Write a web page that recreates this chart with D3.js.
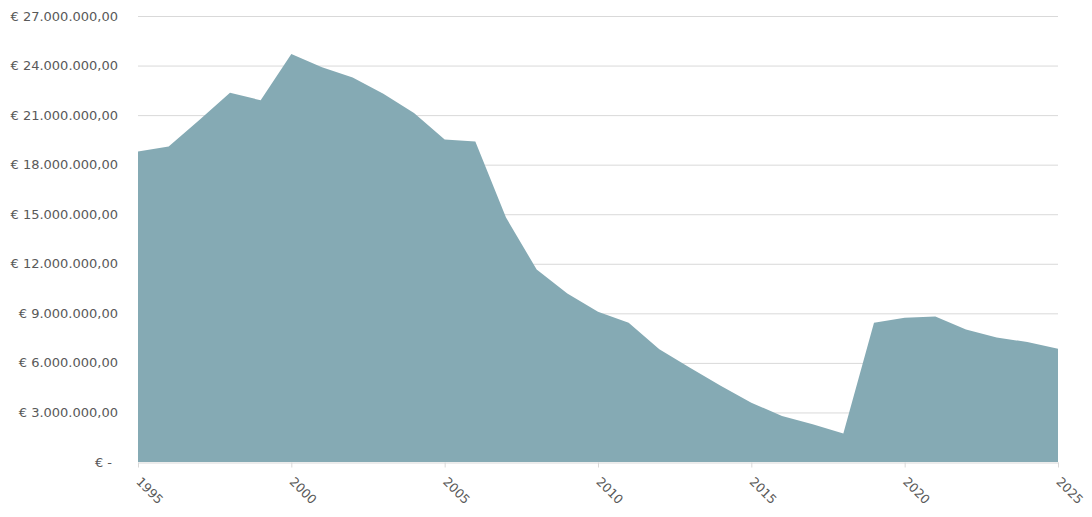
<!DOCTYPE html>
<html>
<head>
<meta charset="utf-8">
<script src="https://cdn.jsdelivr.net/npm/d3@7"></script>
<style>
  body { margin: 0; background: #fff; }
  svg text { font-family: "DejaVu Sans", sans-serif; fill: #595959; }
</style>
</head>
<body>
<div id="chart"></div>
<script>
// Data
const years = [1995, 1996, 1997, 1998, 1999, 2000, 2001, 2002, 2003, 2004,
  2005, 2006, 2007, 2008, 2009, 2010, 2011, 2012, 2013, 2014,
  2015, 2016, 2017, 2018, 2019, 2020, 2021, 2022, 2023, 2024, 2025];
const values = [18.8, 19.1, 20.7, 22.35, 21.9, 24.7, 23.9, 23.27, 22.3, 21.13,
  19.52, 19.4, 14.8, 11.65, 10.2, 9.09, 8.43, 6.82, 5.7, 4.62,
  3.59, 2.78, 2.28, 1.73, 8.43, 8.73, 8.81, 8.02, 7.54, 7.26, 6.85]
  .map(v => v * 1e6);
const yTicks = [0, 3e6, 6e6, 9e6, 12e6, 15e6, 18e6, 21e6, 24e6, 27e6];
const xTicks = [1995, 2000, 2005, 2010, 2015, 2020, 2025];

const width = 1092;
const height = 517;
const margin = { top: 16, right: 34, bottom: 55, left: 138 };

const svg = d3.select('#chart').append('svg')
  .attr('width', width)
  .attr('height', height);

const x = d3.scaleLinear()
  .domain([1995, 2025])
  .range([margin.left, width - margin.right]);

const y = d3.scaleLinear()
  .domain([0, 27e6])
  .range([height - margin.bottom, margin.top]);

const data = years.map((yr, i) => ({ x: yr, y: values[i] }));

// Euro format like the spreadsheet: "€ 27.000.000,00"
const fmt = v => '€ ' + d3.format(',.2f')(v).replace(/,/g, '#').replace('.', ',').replace(/#/g, '.');

// Gridlines
svg.append('g')
  .selectAll('line')
  .data(yTicks.filter(d => d > 0))
  .join('line')
  .attr('x1', margin.left)
  .attr('x2', width - margin.right)
  .attr('y1', d => y(d) + 0.5)
  .attr('y2', d => y(d) + 0.5)
  .attr('stroke', '#d9d9d9')
  .attr('stroke-width', 1);

// Area
const area = d3.area()
  .x(d => x(d.x))
  .y0(y(0))
  .y1(d => y(d.y));

svg.append('path')
  .datum(data)
  .attr('fill', '#85aab4')
  .attr('d', area);

// X axis
const xAxis = svg.append('g')
  .attr('transform', `translate(0, ${y(0) + 0.5})`)
  .call(d3.axisBottom(x).tickValues(xTicks).tickFormat(d3.format('d')).tickSize(5).tickSizeOuter(0));

xAxis.select('.domain').attr('stroke', '#d9d9d9');
xAxis.selectAll('.tick line').attr('stroke', '#d9d9d9');
xAxis.selectAll('.tick text')
  .attr('font-size', 12.5)
  .attr('text-anchor', 'start')
  .attr('dy', null)
  .attr('y', 0)
  .attr('transform', 'translate(-3, 20) rotate(45)');

// Y axis labels
svg.append('g')
  .selectAll('text')
  .data(yTicks)
  .join('text')
  .attr('x', d => d === 0 ? 112 : 118)
  .attr('y', d => y(d))
  .attr('dy', '0.35em')
  .attr('text-anchor', 'end')
  .attr('font-size', 13)
  .text(d => d === 0 ? '€ -' : fmt(d));
</script>
</body>
</html>
